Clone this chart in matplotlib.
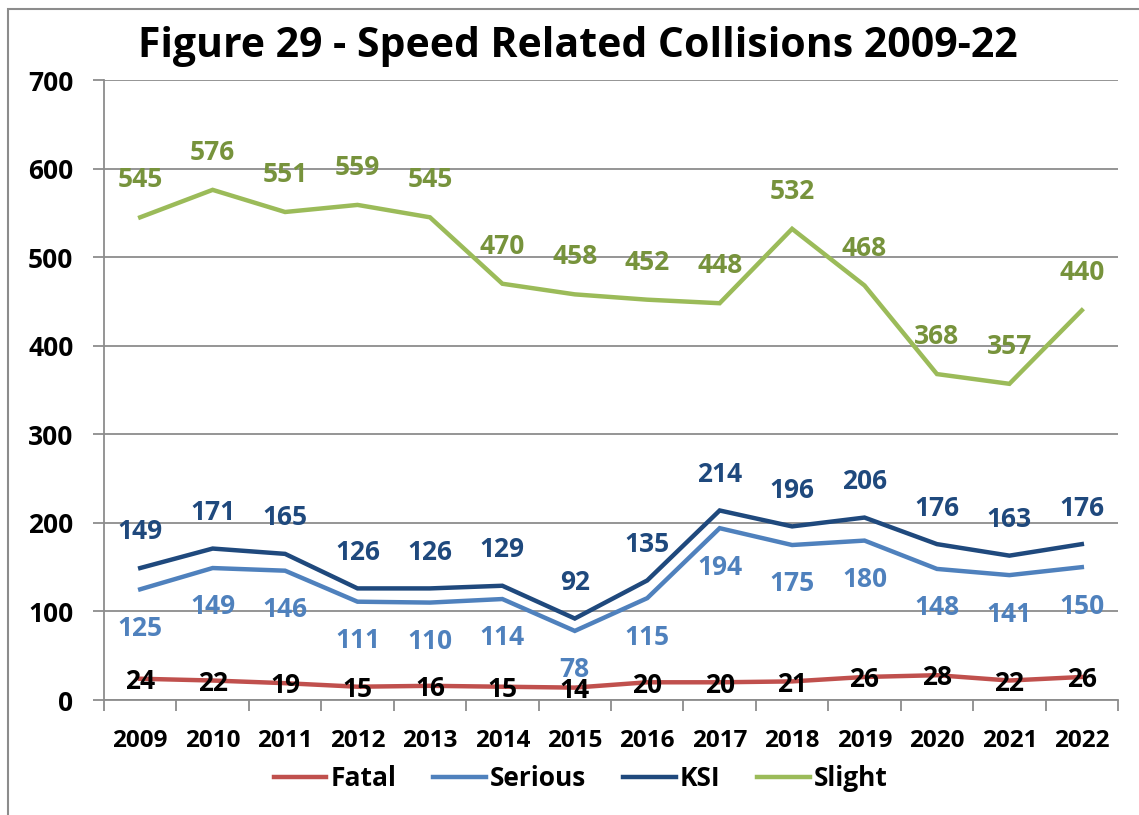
import matplotlib.pyplot as plt
from matplotlib.patches import Rectangle
from matplotlib.ticker import FixedLocator

# data
years = ['2009', '2010', '2011', '2012', '2013', '2014', '2015',
         '2016', '2017', '2018', '2019', '2020', '2021', '2022']
fatal = [24, 22, 19, 15, 16, 15, 14, 20, 20, 21, 26, 28, 22, 26]
serious = [125, 149, 146, 111, 110, 114, 78, 115, 194, 175, 180, 148, 141, 150]
ksi = [149, 171, 165, 126, 126, 129, 92, 135, 214, 196, 206, 176, 163, 176]
slight = [545, 576, 551, 559, 545, 470, 458, 452, 448, 532, 468, 368, 357, 440]

plt.rcParams['font.family'] = ['Open Sans', 'DejaVu Sans']
plt.rcParams['font.weight'] = 'bold'

fig = plt.figure(figsize=(11.39, 8.15), dpi=100)
ax = fig.add_axes([0.0913, 0.1411, 0.8903, 0.7607])

x = list(range(len(years)))

# (name, values, line colour, label colour, label offset in points)
series = [
    ('Fatal', fatal, '#C0504D', 'black', -2),
    ('Serious', serious, '#4F81BD', '#4F81BD', -28),
    ('KSI', ksi, '#1F497D', '#1F497D', 26),
    ('Slight', slight, '#9BBB59', '#77933C', 27),
]

for name, vals, col, lcol, off in series:
    ax.plot(x, vals, color=col, lw=3.2, label=name, solid_joinstyle='miter')
    for xi, v in zip(x, vals):
        ax.annotate(str(v), (xi, v), xytext=(0, off), textcoords='offset points',
                    ha='center', va='center', fontsize=19, fontweight='bold',
                    color=lcol)

ax.set_xlim(-0.5, len(years) - 0.5)
ax.set_ylim(0, 700)
ax.set_yticks(range(0, 701, 100))
ax.yaxis.grid(True, color='#8C8C8C', lw=1.3)
ax.set_axisbelow(True)

ax.set_xticks(x)
ax.set_xticklabels(years)
ax.xaxis.set_minor_locator(FixedLocator([i - 0.5 for i in range(len(years) + 1)]))
ax.tick_params(axis='x', which='major', length=0, pad=21, labelsize=17.5)
ax.tick_params(axis='x', which='minor', length=8, width=1.3, color='#8C8C8C', direction='out')
ax.tick_params(axis='y', length=8, width=1.3, color='#8C8C8C', pad=14, labelsize=19)
for lab in ax.get_xticklabels() + ax.get_yticklabels():
    lab.set_fontweight('bold')

for s in ['top', 'right']:
    ax.spines[s].set_visible(False)
for s in ['left', 'bottom']:
    ax.spines[s].set_color('#8C8C8C')
    ax.spines[s].set_linewidth(1.3)

fig.text(0.507, 0.943, 'Figure 29 - Speed Related Collisions 2009-22',
         ha='center', va='center', fontsize=29.5, fontweight='bold')

ax.legend(loc='center', bbox_to_anchor=(0.51, 0.0445), bbox_transform=fig.transFigure,
          ncol=4, frameon=False, fontsize=19, handlelength=2.0, handletextpad=0.15,
          columnspacing=1.4)

# chart frame, only top and left edges fall inside the image
fig.patches.append(Rectangle((0.007, -0.1), 1.2, 1.089, transform=fig.transFigure,
                             fill=False, edgecolor='#8C8C8C', lw=1.5))

fig.savefig('out.png', dpi=100)
